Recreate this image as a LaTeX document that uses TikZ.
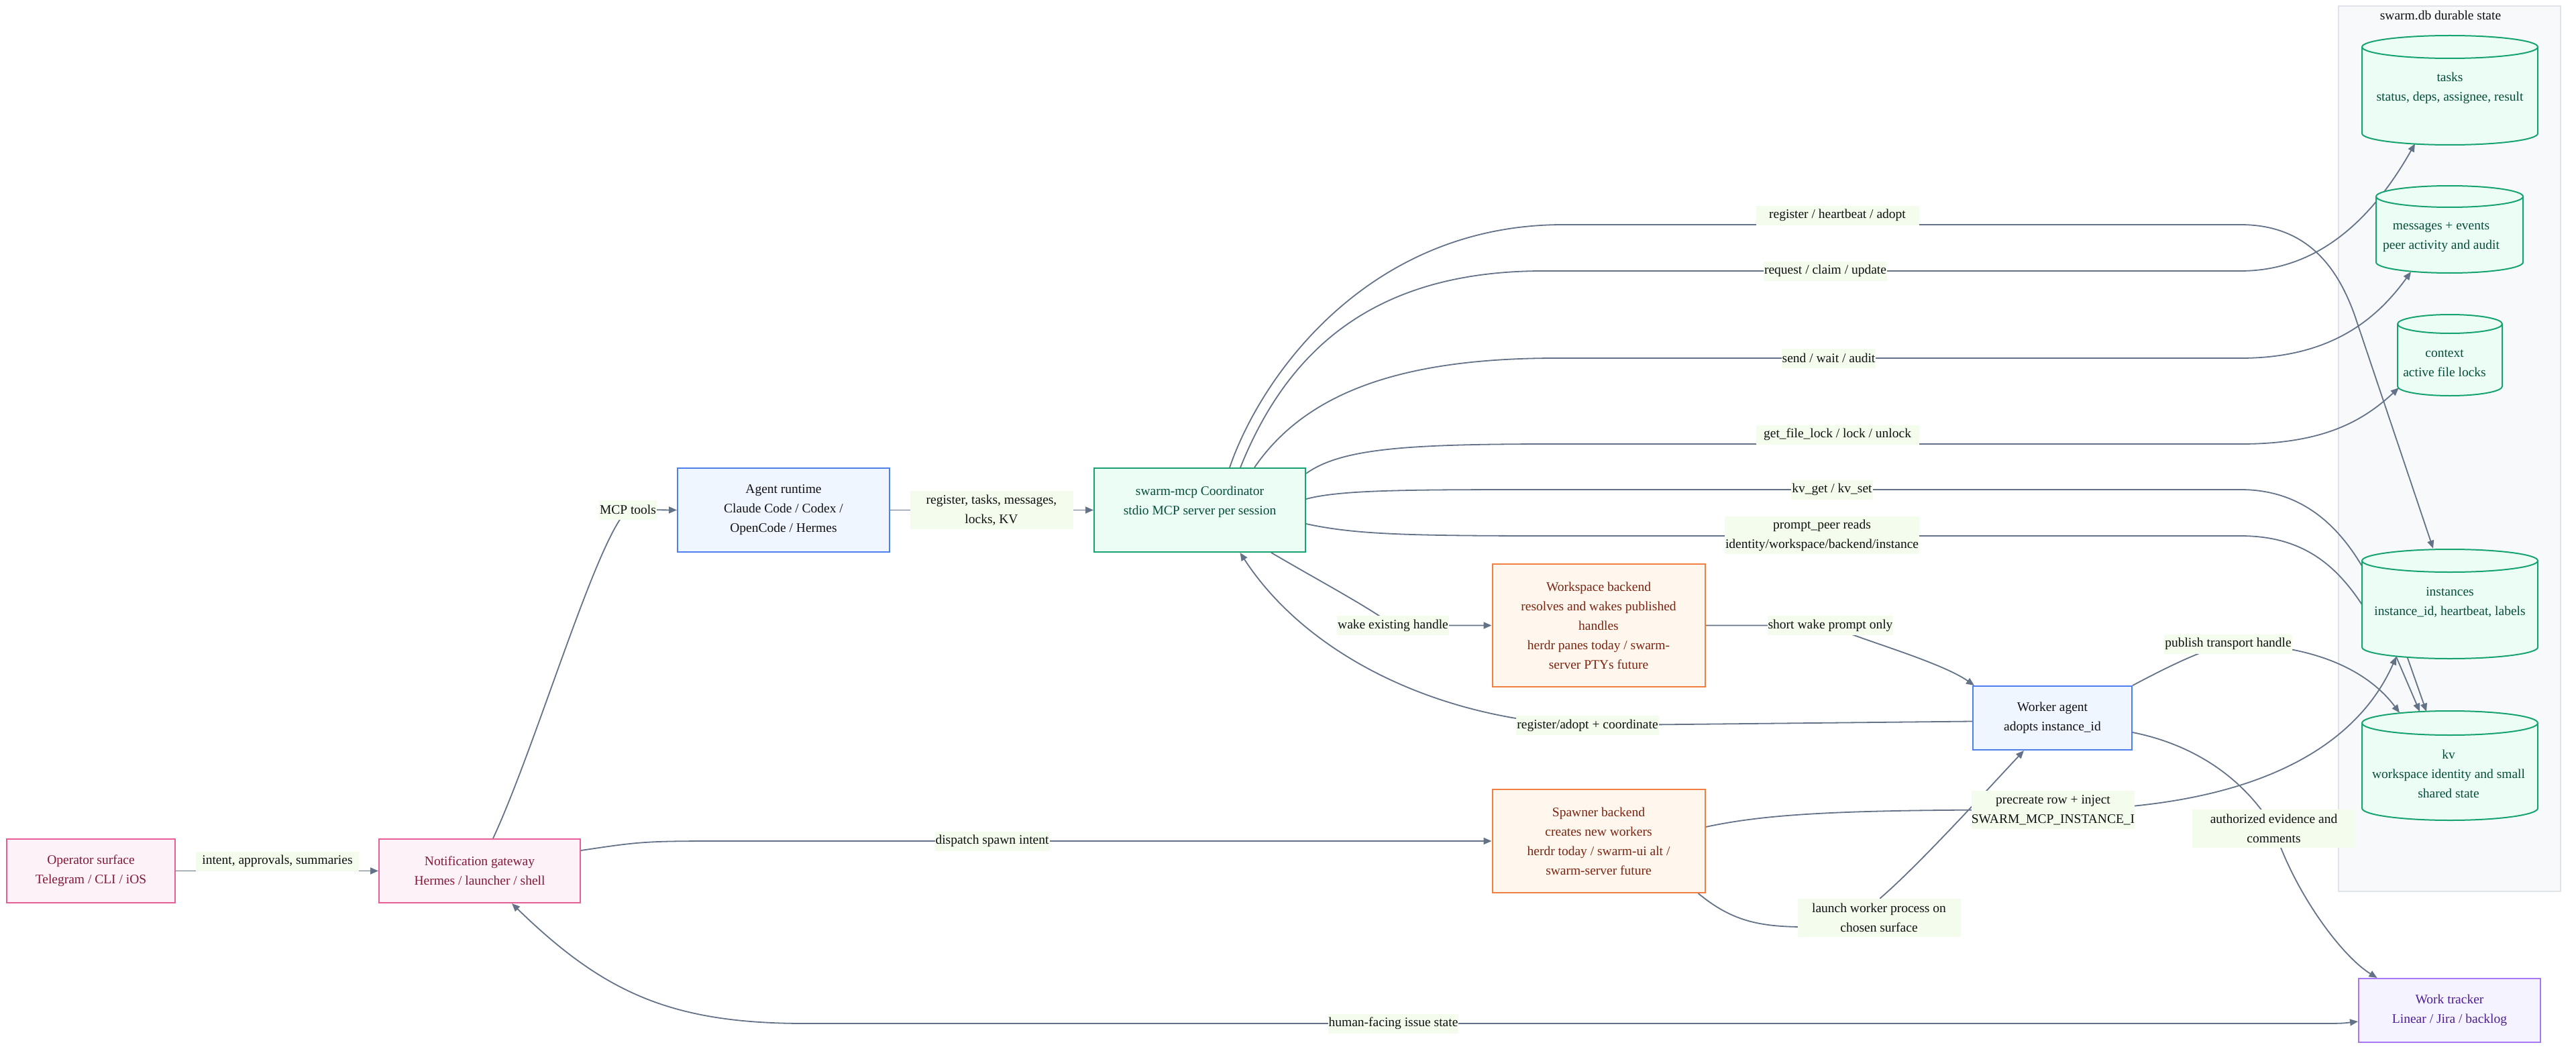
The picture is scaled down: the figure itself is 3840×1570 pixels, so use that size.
\documentclass[tikz,border=0pt]{standalone}
\usepackage{fontspec}
\setmainfont{Liberation Serif}
\usetikzlibrary{arrows.meta,calc}
\pgfdeclarelayer{bg}
\pgfdeclarelayer{edges}
\pgfdeclarelayer{cyl}
\pgfsetlayers{bg,edges,cyl,main}
\definecolor{edgec}{RGB}{100,114,136}
\definecolor{lblbg}{RGB}{243,252,237}
\definecolor{lbltext}{RGB}{17,17,17}
\definecolor{pinkf}{RGB}{253,242,248}
\definecolor{pinkd}{RGB}{232,95,152}
\definecolor{pinkt}{RGB}{131,24,55}
\definecolor{bluef}{RGB}{239,246,255}
\definecolor{blued}{RGB}{77,128,238}
\definecolor{bluet}{RGB}{17,17,17}
\definecolor{greenf}{RGB}{236,253,245}
\definecolor{greend}{RGB}{22,163,112}
\definecolor{greent}{RGB}{6,78,59}
\definecolor{orangef}{RGB}{255,247,237}
\definecolor{oranged}{RGB}{240,128,66}
\definecolor{oranget}{RGB}{124,36,18}
\definecolor{violetf}{RGB}{245,243,255}
\definecolor{violetd}{RGB}{167,120,245}
\definecolor{violett}{RGB}{76,29,149}
\definecolor{clusterf}{RGB}{248,249,251}
\definecolor{clusterd}{RGB}{224,227,232}

\newcommand\dbcyl[9]{%
  \node[cylbox, minimum width=#4pt, minimum height=#5pt] (#1) at (#2,#3) {};
  \node[cyltext] (#1-t) at (#7,#8) {#9};
  \begin{pgfonlayer}{cyl}
    \path[cylbody] ({#2-#4/2},{#3-#5/2+#6}) -- ({#2-#4/2},{#3+#5/2-#6})
      arc[start angle=180, end angle=360, x radius={#4/2*1pt}, y radius={#6*1pt}]
      -- ({#2+#4/2},{#3-#5/2+#6})
      arc[start angle=0, end angle=180, x radius={#4/2*1pt}, y radius={#6*1pt}] -- cycle;
    \draw[cylline] ({#2-#4/2},{#3-#5/2+#6})
      arc[start angle=180, end angle=360, x radius={#4/2*1pt}, y radius={#6*1pt}];
  \end{pgfonlayer}}

\begin{document}
\begin{tikzpicture}[x=1pt,y=-1pt,
  every node/.style={font=\fontsize{19.5}{29}\selectfont},
  box/.style={draw, line width=2pt, align=center, inner sep=0pt},
  pinkbox/.style={box, draw=pinkd, fill=pinkf, text=pinkt},
  bluebox/.style={box, draw=blued, fill=bluef, text=bluet},
  greenbox/.style={box, draw=greend, fill=greenf, text=greent},
  orangebox/.style={box, draw=oranged, fill=orangef, text=oranget},
  violetbox/.style={box, draw=violetd, fill=violetf, text=violett},
  cylbox/.style={draw=none, inner sep=0pt},
  cyltext/.style={text=greent, align=center, inner sep=0pt},
  cylbody/.style={fill=greenf, draw=greend, line width=2pt},
  cylline/.style={draw=greend, line width=2pt},
  lbl/.style={fill=lblbg, text=lbltext, inner xsep=1pt, inner ysep=0pt, minimum height=29pt, align=center},
  lblw/.style={lbl, minimum width=243pt},
  lbltwo/.style={lblw, minimum height=57pt},
  arr/.style={draw=edgec, line width=1.8pt, line join=round, -{Triangle[length=12pt,width=10pt]}},
  arrboth/.style={draw=edgec, line width=1.8pt, line join=round, {Triangle[length=12pt,width=10pt]}-{Triangle[length=12pt,width=10pt]}}
]
\useasboundingbox (0,0) rectangle (3840,1570);
\begin{pgfonlayer}{bg}
  \fill[white] (0,0) rectangle (3840,1570);
  \node[draw=clusterd, fill=clusterf, line width=1.5pt, minimum width=331pt, minimum height=1320pt, inner sep=0pt] (db) at (3651.5,669) {};
\end{pgfonlayer}
\node[text=lbltext] (dbtitle) at (3638,23) {swarm.db durable state};

% boxes
\node[pinkbox, minimum width=251pt, minimum height=95pt] (op) at (135.5,1298.5) {Operator surface\\Telegram / CLI / iOS};
\node[pinkbox, minimum width=300pt, minimum height=95pt] (gw) at (715,1298.5) {Notification gateway\\Hermes / launcher / shell};
\node[bluebox, minimum width=316pt, minimum height=125pt] (agent) at (1168,760.5) {Agent runtime\\Claude Code / Codex /\\OpenCode / Hermes};
\node[greenbox, minimum width=315pt, minimum height=125pt] (coord) at (1788.5,760.5) {swarm-mcp Coordinator\\stdio MCP server per session\\\mbox{}};
\node[orangebox, minimum width=317pt, minimum height=183pt] (ws) at (2383,932.5) {Workspace backend\\resolves and wakes published\\handles\\herdr panes today / swarm-\\server PTYs future};
\node[orangebox, minimum width=317pt, minimum height=154pt] (spawn) at (2383,1254) {Spawner backend\\creates new workers\\herdr today / swarm-ui alt /\\swarm-server future};
\node[bluebox, minimum width=237pt, minimum height=95pt] (worker) at (3059.5,1070.5) {Worker agent\\adopts instance\_id};
\node[violetbox, minimum width=271pt, minimum height=95pt] (track) at (3651.5,1506.5) {Work tracker\\Linear / Jira / backlog};

% databases
\dbcyl{tasks}{3652}{134.5}{262}{163}{17}{3652}{131}{tasks\\status, deps, assignee, result}
\dbcyl{msgs}{3651.5}{342}{219}{130}{16}{3639}{354}{messages + events\\peer activity and audit}
\dbcyl{ctx}{3652}{529.5}{156}{121}{14}{3644}{541.5}{context\\active file locks}
\dbcyl{inst}{3652}{900.5}{262}{163}{17}{3652}{898}{instances\\instance\_id, heartbeat, labels}
\dbcyl{kv}{3652}{1141.5}{262}{163}{18}{3650}{1153.5}{kv\\workspace identity and small\\shared state}

% edge labels
\node[lblw] (lintent) at (413.5,1284) {intent, approvals, summaries};
\node[lbl] (lmcp) at (936,760) {MCP tools};
\node[lbltwo] (lrtk) at (1478,760.5) {register, tasks, messages,\\locks, KV};
\node[lblw] (lrha) at (2739,321) {register / heartbeat / adopt};
\node[lbl] (lrcu) at (2721,404) {request / claim / update};
\node[lbl] (lswa) at (2726,534) {send / wait / audit};
\node[lblw] (lgfl) at (2739,648) {get\_file\_lock / lock / unlock};
\node[lbl] (lkv) at (2731,730) {kv\_get / kv\_set};
\node[lbl, minimum height=56pt] (lpp) at (2716,798) {prompt\_peer reads\\identity/workspace/backend/instance};
\node[lbl] (lwake) at (2076.5,932.5) {wake existing handle};
\node[lbl] (lshort) at (2728.5,932.5) {short wake prompt only};
\node[lbl] (lregad) at (2366.5,1081.5) {register/adopt + coordinate};
\node[lbl] (lpub) at (3321.5,960) {publish transport handle};
\node[lbltwo, inner xsep=0pt] (lpre) at (3060.5,1207.5) {precreate row + inject\\SWARM\_MCP\_INSTANCE\_I};
\node[lbltwo] (llaunch) at (2801,1368) {launch worker process on\\chosen surface};
\node[lbltwo] (lauth) at (3389.5,1235) {authorized evidence and\\comments};
\node[lbl] (ldispatch) at (1479,1254) {dispatch spawn intent};
\node[lbl] (lhuman) at (2077,1526) {human-facing issue state};

\begin{pgfonlayer}{edges}
  \draw[arr] (op.east) -- (gw.west);
  \draw[arr] ($(gw.north)+(20,0)$) .. controls (800,1110) and (890,800) .. (lmcp.center) -- (agent.west);
  \draw[arr] (agent.east) -- (coord.west);
  % coordinator to swarm.db
  \draw[arr] ($(coord.north)+(44.5,0)$) .. controls (1880,560) and (2040,335) .. (2330,335) -- (3340,335)
     .. controls (3440,335) and (3485,400) .. (3510,470) -- ($(inst.north)+(-25,-1)$);
  \draw[arr] ($(coord.north)+(60.5,0)$) .. controls (1920,520) and (2050,404) .. (2300,404) -- (3340,404)
     .. controls (3460,404) and (3540,320) .. ($(tasks.south)+(-52,-2)$);
  \draw[arr] ($(coord.north)+(81.5,0)$) .. controls (1950,580) and (2100,534) .. (2320,534) -- (3340,534)
     .. controls (3470,534) and (3540,480) .. ($(msgs.south)+(-57.5,-2)$);
  \draw[arr] ($(coord.north east)+(0,9)$) .. controls (2000,668) and (2100,662) .. (2320,662) -- (3340,662)
     .. controls (3460,662) and (3520,630) .. ($(ctx.south west)+(2,-12)$);
  \draw[arr] ($(coord.east)+(0,-16.5)$) .. controls (2000,730) and (2100,730) .. (2320,730) -- (3340,730)
     .. controls (3440,730) and (3495,795) .. (3530,860) -- (3585,970) -- ($(kv.north)+(-35,1)$);
  \draw[arr] ($(coord.east)+(0,20.5)$) .. controls (2020,797) and (2100,799) .. (2320,799) -- (3340,799)
     .. controls (3430,799) and (3480,840) .. (3520,900) -- (3568,970) -- ($(kv.north)+(-45,1)$);
  % coordinator, workspace, worker
  \draw[arr] ($(coord.south)+(106.5,0)$) .. controls (1970,868) and (2040,905) .. (lwake.center) -- (ws.west);
  \draw[arr] (ws.east) -- (lshort.center) .. controls (2760,950) and (2890,985) .. ($(worker.north west)+(3,0)$);
  \draw[arr] ($(worker.west)+(0,5)$) -- (lregad.center) .. controls (2150,1075) and (1950,980) .. ($(coord.south)+(60,0)$);
  % gateway
  \draw[arr] ($(gw.east)+(0,-30.5)$) .. controls (960,1254) .. (1100,1254) -- (ldispatch.center) -- (spawn.west);
  \draw[arrboth] ($(gw.south)+(48,0)$) .. controls (900,1480) and (1000,1526) .. (1200,1526) -- (lhuman.center)
     -- (3440,1526) .. controls (3490,1526) .. ($(track.west)+(0,16.5)$);
  % spawner
  \draw[arr] ($(spawn.east)+(0,-21)$) .. controls (2640,1212) and (2760,1207) .. (lpre.center)
     .. controls (3350,1207) and (3510,1120) .. ($(inst.south)+(-80,-3)$);
  \draw[arr] ($(spawn.south east)+(-11,0)$) .. controls (2580,1372) and (2620,1382) .. (2690,1382)
     .. controls (2780,1382) and (2800,1360) .. (2803,1339)
     .. controls (2860,1290) and (2960,1180) .. ($(worker.south)+(-42.5,0)$);
  % worker
  \draw[arr] ($(worker.east)+(0,21.5)$) .. controls (3270,1110) and (3345,1160) .. (lauth.center)
     .. controls (3420,1330) and (3490,1425) .. ($(track.north)+(-108,0)$);
  \draw[arr] (worker.north east) .. controls (3230,995) and (3280,970) .. (lpub.center)
     .. controls (3450,960) and (3530,1000) .. ($(kv.north)+(-75,3)$);
\end{pgfonlayer}
\end{tikzpicture}
\end{document}
